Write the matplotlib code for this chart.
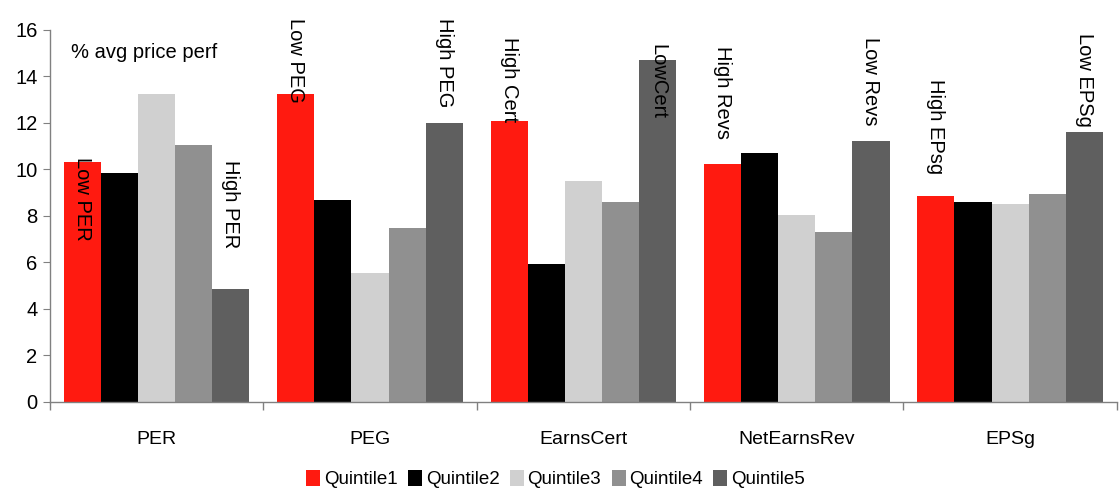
import numpy as np
import matplotlib
matplotlib.use("Agg")
import matplotlib.pyplot as plt
from matplotlib.patches import Patch

plt.rcParams["font.family"] = ["Liberation Sans", "DejaVu Sans"]

# ── Data: average price performance (%) by quintile ──────────────────────────
categories = ["PER", "PEG", "EarnsCert", "NetEarnsRev", "EPSg"]
series = ["Quintile1", "Quintile2", "Quintile3", "Quintile4", "Quintile5"]

quintile1 = [10.31, 13.25, 12.08, 10.23, 8.86]
quintile2 = [9.85, 8.67, 5.93, 10.71, 8.60]
quintile3 = [13.25, 5.54, 9.50, 8.04, 8.52]
quintile4 = [11.05, 7.47, 8.60, 7.30, 8.94]
quintile5 = [4.85, 12.00, 14.72, 11.22, 11.62]

# side notes: (category index, quintile index, text, top of text in data units)
notes = [
    (0, 0, "Low PER", 10.55),
    (0, 4, "High PER", 10.40),
    (1, 0, "Low PEG", 16.50),
    (1, 4, "High PEG", 16.50),
    (2, 0, "High Cert", 15.70),
    (2, 4, "LowCert", 15.40),
    (3, 0, "High Revs", 15.30),
    (3, 4, "Low Revs", 15.70),
    (4, 0, "High EPsg", 13.90),
    (4, 4, "Low EPSg", 15.85),
]

colors = ["#ff1a10", "#000000", "#d0d0d0", "#909090", "#5f5f5f"]

values = [quintile1, quintile2, quintile3, quintile4, quintile5]

fig = plt.figure(figsize=(11.2, 4.91), dpi=100)
ax = fig.add_axes([0.0446, 0.182, 0.9525, 0.757])

x = np.arange(len(categories))
w = 0.174
for i, (vals, col) in enumerate(zip(values, colors)):
    ax.bar(x + (i - 2) * w, vals, width=w, color=col, linewidth=0)

for ci, qi, txt, top in notes:
    ax.text(x[ci] + (qi - 2) * w, top, txt, rotation=270, ha="center",
            va="top", fontsize=14.5, clip_on=False)

ax.text(0.02, 0.965, "% avg price perf", transform=ax.transAxes,
        fontsize=14.5, va="top", ha="left")

ax.set_xlim(-0.5, len(categories) - 0.5)
ax.set_ylim(0, 16)
ax.set_yticks(np.arange(0, 17, 2))

# category names centred, tick marks on the group boundaries
ax.set_xticks(x)
ax.set_xticklabels(categories)
ax.set_xticks(np.arange(-0.5, len(categories) + 0.5, 1), minor=True)
ax.tick_params(axis="x", which="major", length=0, pad=21, labelsize=14)
ax.tick_params(axis="x", which="minor", length=6, color="#808080", width=1)
ax.tick_params(axis="y", length=5, color="#808080", labelsize=14.5, pad=4)

for side in ["top", "right"]:
    ax.spines[side].set_visible(False)
for side in ["left", "bottom"]:
    ax.spines[side].set_color("#808080")
    ax.spines[side].set_linewidth(1)

handles = [Patch(facecolor=c, edgecolor="none") for c in colors]
fig.legend(handles, series, loc="lower center", bbox_to_anchor=(0.496, 0.0),
           ncol=5, frameon=False, fontsize=13.5, handlelength=0.75,
           handleheight=0.9, handletextpad=0.2, columnspacing=0.55,
           borderpad=0.15, borderaxespad=0.0)

fig.savefig("out.png", dpi=100)
